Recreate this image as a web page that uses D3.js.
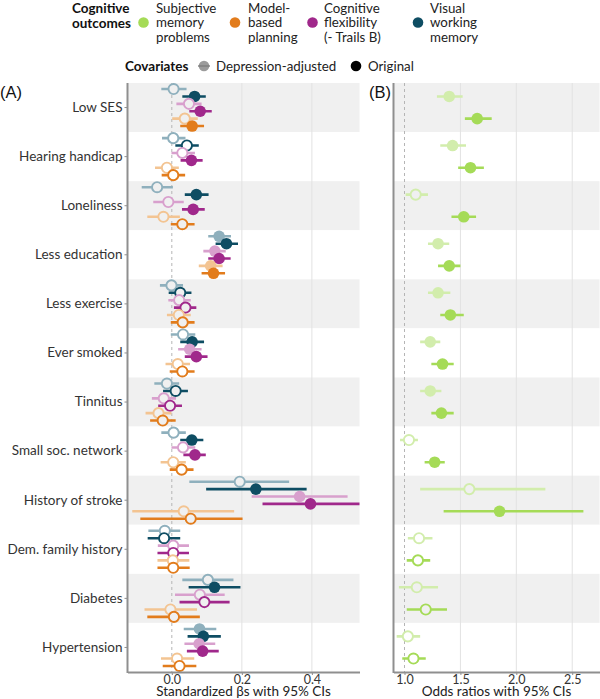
<!DOCTYPE html>
<html><head><meta charset="utf-8">
<script src="https://cdn.jsdelivr.net/npm/d3@7"></script>
<style>
body{margin:0;background:#fff;}
svg text{font-family:Lato,"Open Sans",sans-serif;}
</style></head>
<body><svg id="c" width="600" height="699"></svg>
<script>
// ---------- data ----------
const factors = ["Low SES","Hearing handicap","Loneliness","Less education","Less exercise","Ever smoked","Tinnitus","Small soc. network","History of stroke","Dem. family history","Diabetes","Hypertension"];
// each entry: [estimate, lower CI, upper CI, filled(1)/hollow(0)]
const vwmAdjusted = [[0.005,-0.030,0.042,0],[0.004,-0.028,0.039,0],[-0.042,-0.086,0.003,0],[0.135,0.104,0.169,1],[-0.001,-0.034,0.032,0],[0.032,-0.003,0.067,0],[-0.014,-0.050,0.021,0],[0.005,-0.030,0.040,0],[0.194,0.050,0.335,0],[-0.020,-0.067,0.024,0],[0.103,0.030,0.176,0],[0.079,0.034,0.127,1]];
const vwmOriginal = [[0.065,0.030,0.097,1],[0.043,0.010,0.077,0],[0.070,0.037,0.105,1],[0.156,0.125,0.189,1],[0.024,-0.009,0.056,0],[0.058,0.024,0.092,1],[0.011,-0.025,0.046,0],[0.057,0.024,0.090,1],[0.240,0.098,0.385,1],[-0.022,-0.069,0.024,0],[0.122,0.048,0.196,1],[0.090,0.045,0.140,1]];
const cfAdjusted = [[0.049,0.013,0.085,0],[0.030,-0.001,0.066,0],[-0.010,-0.053,0.034,0],[0.123,0.090,0.154,1],[0.021,-0.010,0.054,0],[0.051,0.018,0.085,1],[-0.023,-0.057,0.012,0],[0.032,-0.001,0.067,0],[0.365,0.228,0.502,1],[0.004,-0.040,0.049,0],[0.080,0.009,0.151,0],[0.078,0.036,0.124,1]];
const cfOriginal = [[0.081,0.050,0.114,1],[0.056,0.025,0.088,1],[0.061,0.029,0.094,1],[0.135,0.104,0.168,1],[0.039,0.006,0.070,0],[0.070,0.037,0.102,1],[-0.005,-0.039,0.029,0],[0.066,0.033,0.097,1],[0.396,0.259,0.540,1],[0.004,-0.041,0.049,0],[0.093,0.022,0.165,0],[0.088,0.043,0.134,1]];
const mbpAdjusted = [[0.037,0.001,0.074,0],[-0.014,-0.048,0.020,0],[-0.024,-0.070,0.023,0],[0.111,0.077,0.145,1],[0.020,-0.014,0.054,0],[0.017,-0.018,0.052,0],[-0.038,-0.075,-0.001,0],[0.004,-0.032,0.040,0],[0.034,-0.113,0.178,0],[0.003,-0.041,0.050,0],[-0.004,-0.078,0.072,0],[0.015,-0.031,0.064,0]];
const mbpOriginal = [[0.058,0.024,0.092,1],[0.004,-0.029,0.038,0],[0.030,-0.003,0.065,0],[0.119,0.085,0.152,1],[0.031,-0.003,0.065,0],[0.030,-0.006,0.065,0],[-0.026,-0.062,0.011,0],[0.028,-0.006,0.062,0],[0.054,-0.090,0.202,0],[0.004,-0.041,0.051,0],[0.006,-0.070,0.080,0],[0.022,-0.026,0.070,0]];
const smpAdjusted = [[1.40,1.29,1.52,1],[1.43,1.32,1.55,1],[1.10,1.01,1.21,0],[1.30,1.21,1.40,1],[1.30,1.21,1.41,1],[1.23,1.14,1.32,1],[1.23,1.14,1.33,1],[1.04,0.96,1.12,0],[1.58,1.14,2.26,0],[1.13,1.03,1.25,0],[1.11,0.95,1.30,0],[1.03,0.93,1.14,0]];
const smpOriginal = [[1.65,1.54,1.78,1],[1.59,1.48,1.71,1],[1.53,1.42,1.64,1],[1.40,1.30,1.50,1],[1.41,1.32,1.53,1],[1.34,1.24,1.44,1],[1.33,1.24,1.44,1],[1.27,1.18,1.36,1],[1.85,1.35,2.60,1],[1.12,1.02,1.23,0],[1.19,1.02,1.38,0],[1.08,0.98,1.19,0]];
const ticksA = [0, 0.2, 0.4];
const ticksB = [1.0, 1.5, 2.0, 2.5];
const outcomeLabels = [["Subjective","memory","problems"],["Model-","based","planning"],["Cognitive","flexibility","(- Trails B)"],["Visual","working","memory"]];
const covariateLabels = ["Depression-adjusted","Original"];

// ---------- styling ----------
const col = {vwm:"#0e4d63", cf:"#a0288b", mbp:"#e27c1c", smp:"#a5db57"};
const lightCol = {vwm:"#8fb0bd", cf:"#d8a0cd", mbp:"#f3c492", smp:"#d2edac"};
const bandFill = "#f0f0f0";

const svg = d3.select("#c");
const yTop = 83, yBottom = 672;
const y = d3.scaleBand().domain(factors).range([yTop, yBottom]);
const xA = d3.scaleLinear().domain([-0.1266, 0.536]).range([127.5, 359.5]);
const xB = d3.scaleLinear().domain([0.9016, 2.744]).range([393.5, 599.5]);

const seriesA = [
  {key:"vwmA", data:vwmAdjusted, c:lightCol.vwm},
  {key:"vwmO", data:vwmOriginal, c:col.vwm},
  {key:"cfA", data:cfAdjusted, c:lightCol.cf},
  {key:"cfO", data:cfOriginal, c:col.cf},
  {key:"mbpA", data:mbpAdjusted, c:lightCol.mbp},
  {key:"mbpO", data:mbpOriginal, c:col.mbp}
];
const seriesB = [
  {key:"smpA", data:smpAdjusted, c:lightCol.smp},
  {key:"smpO", data:smpOriginal, c:col.smp}
];
const subA = d3.scalePoint().domain(seriesA.map(s=>s.key)).range([-18.5, 18.5]);
const subB = d3.scalePoint().domain(seriesB.map(s=>s.key)).range([-11.1, 11.1]);

function panel(x, ticks, refVal, series, sub, clipId){
  const [x0, x1] = x.range();
  const g = svg.append("g");
  svg.append("clipPath").attr("id", clipId).append("rect")
    .attr("x", x0).attr("y", yTop).attr("width", x1 - x0).attr("height", yBottom - yTop);
  g.selectAll("rect.band").data(factors).join("rect")
    .attr("x", x0).attr("width", x1 - x0)
    .attr("y", d => y(d)).attr("height", y.bandwidth())
    .attr("fill", (d,i) => i % 2 === 0 ? bandFill : "#fff");
  g.selectAll("line.grid").data(ticks.filter(t => t !== refVal)).join("line")
    .attr("x1", d => x(d)).attr("x2", d => x(d)).attr("y1", yTop).attr("y2", yBottom)
    .attr("stroke", "#e2e2e2").attr("stroke-width", 1);
  g.append("line").attr("x1", x(refVal)).attr("x2", x(refVal)).attr("y1", yTop).attr("y2", yBottom)
    .attr("stroke", "#b5b5b5").attr("stroke-width", 1).attr("stroke-dasharray", "3,3");
  const m = g.append("g").attr("clip-path", `url(#${clipId})`);
  factors.forEach((f, i) => {
    const bg = i % 2 === 0 ? bandFill : "#fff";
    series.forEach(s => {
      const [est, lo, hi, filled] = s.data[i];
      const yy = y(f) + y.bandwidth() / 2 + sub(s.key);
      m.append("line").attr("x1", x(lo)).attr("x2", x(hi)).attr("y1", yy).attr("y2", yy)
        .attr("stroke", s.c).attr("stroke-width", 2.6);
      m.append("circle").attr("cx", x(est)).attr("cy", yy)
        .attr("r", filled ? 5.8 : 5.1)
        .attr("fill", filled ? s.c : bg)
        .attr("stroke", s.c).attr("stroke-width", filled ? 0 : 1.9);
    });
  });
  const ax = svg.append("g").attr("transform", `translate(0,${yBottom})`)
    .call(d3.axisBottom(x).tickValues(ticks).tickFormat(d3.format(".1f")).tickSize(3).tickSizeOuter(0).tickPadding(0));
  ax.select(".domain").attr("stroke", "#8f8f8f").attr("stroke-width", 2);
  ax.selectAll(".tick line").attr("stroke", "#8f8f8f");
  ax.selectAll(".tick text").attr("font-size", 12.5).attr("fill", "#333")
    .style("font-family", "Lato");
  svg.append("line").attr("x1", x0).attr("x2", x0).attr("y1", yTop).attr("y2", yBottom + 1)
    .attr("stroke", "#8f8f8f").attr("stroke-width", 2);
}

panel(xA, ticksA, 0, seriesA, subA, "clipA");
panel(xB, ticksB, 1, seriesB, subB, "clipB");

const ya = svg.append("g").attr("transform", "translate(127.5,0)")
  .call(d3.axisLeft(y).tickSize(3).tickSizeOuter(0).tickPadding(2));
ya.select(".domain").remove();
ya.selectAll(".tick line").attr("stroke", "#8f8f8f");
ya.selectAll(".tick text").attr("font-size", 13.5).attr("fill", "#333").style("font-family", "Lato");

svg.append("text").attr("x", (xA.range()[0] + xA.range()[1]) / 2).attr("y", 695.5)
  .attr("text-anchor", "middle").attr("font-size", 13.5).attr("fill", "#222").text("Standardized βs with 95% CIs");
svg.append("text").attr("x", (xB.range()[0] + xB.range()[1]) / 2).attr("y", 695.5)
  .attr("text-anchor", "middle").attr("font-size", 13.5).attr("fill", "#222").text("Odds ratios with 95% CIs");

svg.append("text").attr("x", 0).attr("y", 98).attr("font-size", 16.5).style("font-family", "'Liberation Sans',Arial,sans-serif").attr("fill", "#111").text("(A)");
svg.append("text").attr("x", 369).attr("y", 98).attr("font-size", 16.5).style("font-family", "'Liberation Sans',Arial,sans-serif").attr("fill", "#111").text("(B)");

const lg = svg.append("g");
const ttl = lg.append("text").attr("font-size", 13.5).attr("font-weight", "bold").attr("fill", "#111");
ttl.append("tspan").attr("x", 72).attr("y", 12.5).text("Cognitive");
ttl.append("tspan").attr("x", 72).attr("y", 27.5).text("outcomes");
const legItems = [
  {c:col.smp, dx:143.5, tx:156, lab:outcomeLabels[0]},
  {c:col.mbp, dx:235, tx:248, lab:outcomeLabels[1]},
  {c:col.cf, dx:312.5, tx:324, lab:outcomeLabels[2]},
  {c:col.vwm, dx:418, tx:430, lab:outcomeLabels[3]}
];
legItems.forEach(it => {
  lg.append("circle").attr("cx", it.dx).attr("cy", 22.5).attr("r", 5.3).attr("fill", it.c);
  const t = lg.append("text").attr("font-size", 13.3).attr("fill", "#222");
  it.lab.forEach((s, k) => t.append("tspan").attr("x", it.tx).attr("y", 12.5 + k * 14.5).text(s));
});
lg.append("text").attr("x", 125).attr("y", 70.5).attr("font-size", 13.5).attr("font-weight", "bold").attr("fill", "#111").text("Covariates");
lg.append("line").attr("x1", 198).attr("x2", 210).attr("y1", 66).attr("y2", 66).attr("stroke", "#aaa").attr("stroke-width", 2);
lg.append("circle").attr("cx", 204).attr("cy", 66).attr("r", 5.3).attr("fill", "#7a7a7a").attr("fill-opacity", 0.75);
lg.append("text").attr("x", 216).attr("y", 70.5).attr("font-size", 13.3).attr("fill", "#222").text(covariateLabels[0]);
lg.append("circle").attr("cx", 356).attr("cy", 66).attr("r", 5.3).attr("fill", "#000");
lg.append("text").attr("x", 368).attr("y", 70.5).attr("font-size", 13.3).attr("fill", "#222").text(covariateLabels[1]);
</script></body></html>
